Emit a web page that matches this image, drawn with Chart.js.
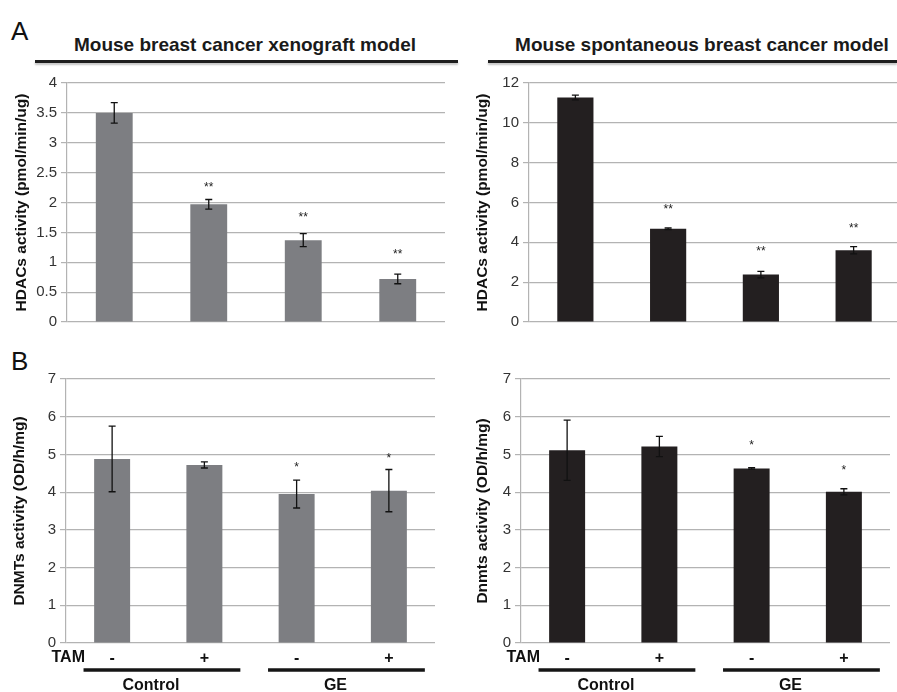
<!DOCTYPE html>
<html>
<head>
<meta charset="utf-8">
<script src="https://cdn.jsdelivr.net/npm/chart.js@4.4.1/dist/chart.umd.min.js"></script>
<style>
  body { margin: 0; width: 897px; height: 692px; overflow: hidden; background: #fff; position: relative; font-family: "Liberation Sans", Arial, sans-serif; }
  canvas { position: absolute; }
  .letter { position: absolute; font-size: 26px; line-height: 1; color: #111; }
  .ttl { position: absolute; font-weight: bold; font-size: 19px; line-height: 1; color: #1a1a1a; white-space: nowrap; transform: translateX(-50%); }
  .rule { position: absolute; height: 3px; background: #1e1e1e; box-shadow: 0 2px 2px #c4c4c4; }
</style>
</head>
<body>
<div class="letter" style="left:11px;top:18px">A</div>
<div class="letter" style="left:11px;top:348px">B</div>
<div class="ttl" style="left:245px;top:35px">Mouse breast cancer xenograft model</div>
<div class="ttl" style="left:702px;top:35px">Mouse spontaneous breast cancer model</div>
<div class="rule" style="left:35px;top:60px;width:423px"></div>
<div class="rule" style="left:488px;top:60px;width:409px"></div>

<canvas id="hdacXeno" width="460" height="265" style="left:0;top:70px"></canvas>
<canvas id="hdacSpont" width="440" height="265" style="left:460px;top:70px"></canvas>
<canvas id="dnmtXeno" width="460" height="332" style="left:0;top:360px"></canvas>
<canvas id="dnmtSpont" width="437" height="332" style="left:460px;top:360px"></canvas>

<script>
"use strict";

var categories = ["Control -TAM", "Control +TAM", "GE -TAM", "GE +TAM"];
var tamLabels = ["-", "+", "-", "+"];
var groupLabels = ["Control", "GE"];

var hdacXenoMean = [3.5, 1.97, 1.37, 0.72];
var hdacXenoErr = [0.17, 0.08, 0.11, 0.08];
var hdacXenoStars = ["", "**", "**", "**"];
var hdacXenoStarAt = [0, 2.25, 1.74, 1.12];

var hdacSpontMean = [11.27, 4.68, 2.38, 3.6];
var hdacSpontErr = [0.12, 0.04, 0.16, 0.18];
var hdacSpontStars = ["", "**", "**", "**"];
var hdacSpontStarAt = [0, 5.65, 3.52, 4.71];

var dnmtXenoMean = [4.88, 4.72, 3.95, 4.04];
var dnmtXenoErr = [0.87, 0.08, 0.37, 0.56];
var dnmtXenoStars = ["", "", "*", "*"];
var dnmtXenoStarAt = [0, 0, 4.66, 4.88];

var dnmtSpontMean = [5.11, 5.21, 4.63, 4.01];
var dnmtSpontErr = [0.8, 0.27, 0.02, 0.08];
var dnmtSpontStars = ["", "", "*", "*"];
var dnmtSpontStarAt = [0, 0, 5.22, 4.58];

var FONT = "'Liberation Sans', Arial, sans-serif";
var GRID = "#b3b3b3";

// error bars, significance stars and the TAM / group row
var extrasPlugin = {
  id: "extras",
  afterDatasetsDraw: function(chart) {
    var o = chart.options.plugins.extras;
    var ctx = chart.ctx;
    var x = chart.scales.x;
    var y = chart.scales.y;
    ctx.save();
    ctx.strokeStyle = "#111";
    ctx.lineWidth = 1.3;
    o.mean.forEach(function(m, i) {
      var px = x.getPixelForValue(i);
      var top = y.getPixelForValue(m + o.err[i]);
      var bot = y.getPixelForValue(m - o.err[i]);
      ctx.beginPath();
      ctx.moveTo(px, top); ctx.lineTo(px, bot);
      ctx.moveTo(px - 3.5, top); ctx.lineTo(px + 3.5, top);
      ctx.moveTo(px - 3.5, bot); ctx.lineTo(px + 3.5, bot);
      ctx.stroke();
    });
    ctx.fillStyle = "#222";
    ctx.font = "12px " + FONT;
    ctx.textAlign = "center";
    ctx.textBaseline = "middle";
    o.stars.forEach(function(s, i) {
      if (s) ctx.fillText(s, x.getPixelForValue(i), y.getPixelForValue(o.starAt[i]));
    });
    if (o.bottom) {
      var base = chart.chartArea.bottom;
      var w = x.getPixelForValue(1) - x.getPixelForValue(0);
      ctx.fillStyle = "#111";
      ctx.font = "bold 16px " + FONT;
      ctx.textAlign = "right";
      ctx.fillText("TAM", chart.chartArea.left + 19, base + 15);
      ctx.strokeStyle = "#151515";
      ctx.lineWidth = 3.5;
      ctx.textAlign = "center";
      groupLabels.forEach(function(g, k) {
        var a = x.getPixelForValue(2 * k) - 0.31 * w;
        var b = x.getPixelForValue(2 * k + 1) + 0.39 * w;
        ctx.beginPath();
        ctx.moveTo(a, base + 27); ctx.lineTo(b, base + 27);
        ctx.stroke();
        ctx.fillText(g, (a + b) / 2 - 11, base + 43);
      });
    }
    ctx.restore();
  }
};

function makeChart(id, p) {
  new Chart(document.getElementById(id), {
    type: "bar",
    data: {
      labels: p.bottom ? tamLabels : categories,
      datasets: [{
        data: p.mean,
        backgroundColor: p.color,
        barPercentage: 0.39,
        categoryPercentage: 1
      }]
    },
    options: {
      responsive: false,
      animation: false,
      layout: { padding: { top: p.padTop, right: p.padRight, left: 0, bottom: 0 } },
      plugins: {
        legend: { display: false },
        tooltip: { enabled: false },
        extras: { mean: p.mean, err: p.err, stars: p.stars, starAt: p.starAt, bottom: p.bottom }
      },
      scales: {
        x: {
          grid: { display: false, drawTicks: false },
          border: { display: false },
          ticks: {
            display: p.bottom,
            padding: 6,
            color: "#111",
            font: { family: FONT, size: 16, weight: "bold" }
          },
          afterFit: function(s) { s.height = p.xHeight; }
        },
        y: {
          min: 0,
          max: p.max,
          ticks: {
            stepSize: p.step,
            padding: 4,
            color: "#333",
            font: { family: FONT, size: 15 },
            callback: function(v) { return String(Math.round(v * 100) / 100); }
          },
          grid: { color: GRID, lineWidth: 1.2, tickLength: 6 },
          border: { color: GRID, width: 1.2 },
          title: {
            display: true,
            text: p.title,
            color: "#111",
            font: { family: FONT, size: 15.5, weight: "bold" },
            padding: { top: p.titlePad, bottom: 0 }
          },
          afterFit: function(s) { s.width = p.yWidth; }
        }
      }
    },
    plugins: [extrasPlugin]
  });
}

makeChart("hdacXeno", {
  mean: hdacXenoMean, err: hdacXenoErr, stars: hdacXenoStars, starAt: hdacXenoStarAt,
  color: "#7d7e82", max: 4, step: 0.5, title: "HDACs activity (pmol/min/ug)",
  yWidth: 67, padTop: 11, padRight: 15, xHeight: 12, titlePad: 12, bottom: false
});
makeChart("hdacSpont", {
  mean: hdacSpontMean, err: hdacSpontErr, stars: hdacSpontStars, starAt: hdacSpontStarAt,
  color: "#231f20", max: 12, step: 2, title: "HDACs activity (pmol/min/ug)",
  yWidth: 69, padTop: 11, padRight: 0, xHeight: 12, titlePad: 13, bottom: false
});
makeChart("dnmtXeno", {
  mean: dnmtXenoMean, err: dnmtXenoErr, stars: dnmtXenoStars, starAt: dnmtXenoStarAt,
  color: "#7d7e82", max: 7, step: 1, title: "DNMTs activity (OD/h/mg)",
  yWidth: 66, padTop: 19, padRight: 25, xHeight: 49, titlePad: 10, bottom: true
});
makeChart("dnmtSpont", {
  mean: dnmtSpontMean, err: dnmtSpontErr, stars: dnmtSpontStars, starAt: dnmtSpontStarAt,
  color: "#231f20", max: 7, step: 1, title: "Dnmts activity (OD/h/mg)",
  yWidth: 61, padTop: 19, padRight: 7, xHeight: 49, titlePad: 13, bottom: true
});
</script>
</body>
</html>
